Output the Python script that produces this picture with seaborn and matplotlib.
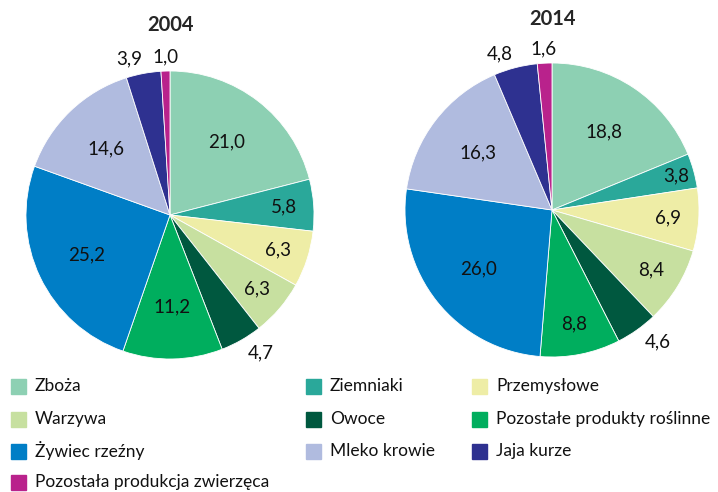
import matplotlib.pyplot as plt
import seaborn as sns
from matplotlib.patches import Rectangle
import numpy as np

#----------------------------------------------------
l_cat=['Zboża', 'Ziemniaki', 'Przemysłowe', 'Warzywa', 'Owoce',
       'Pozostałe produkty roślinne', 'Żywiec rzeźny', 'Mleko krowie',
       'Jaja kurze', 'Pozostała produkcja zwierzęca']
v_2004=[21.0, 5.8, 6.3, 6.3, 4.7, 11.2, 25.2, 14.6, 3.9, 1.0]
v_2014=[18.8, 3.8, 6.9, 8.4, 4.6, 8.8, 26.0, 16.3, 4.8, 1.6]
years=['2004', '2014']
cmap=['#8dd0b3', '#2aa89a', '#eeeda6', '#c7e0a0', '#00583f',
      '#00ae5e', '#007ec6', '#b0bbdf', '#2e3190', '#b9228c']
outside=['Owoce', 'Jaja kurze', 'Pozostała produkcja zwierzęca']

#----------------------------------------------------
sns.set_theme(style='white')
plt.rcParams['font.family']=['Lato', 'DejaVu Sans']
W, H=718, 492
fig=plt.figure(figsize=(W/100, H/100), dpi=100)

def fmt(v):
	return f'{v:.1f}'.replace('.', ',')

def plt_pie(vals, title, cx, cy, r, ty):
	ax=fig.add_axes([(cx-r)/W, (H-cy-r)/H, 2*r/W, 2*r/H])
	wedges, _=ax.pie(vals, colors=cmap, startangle=90, counterclock=False,
		wedgeprops={'edgecolor': 'white', 'linewidth': 0.6})
	ax.set_xlim(-1, 1)
	ax.set_ylim(-1, 1)
	ax.set_aspect('equal')
	ax.axis('off')
	for w, v, name in zip(wedges, vals, l_cat):
		ang=np.deg2rad((w.theta1+w.theta2)/2)
		x, y=np.cos(ang), np.sin(ang)
		if name in outside:
			d=1.1
			dx=np.sign(x)*12/r if abs(x)>0.1 else 0
		else:
			d=0.64 if v>=10 else (0.79 if v>=5 else 0.88)
			dx=0
		ax.text(d*x+dx, d*y, fmt(v), ha='center', va='center',
			fontsize=13.5, color='#111111', clip_on=False)
	fig.text(cx/W, 1-ty/H, title, ha='center', va='center', fontsize=14.5, weight='bold')
	return ax

plt_pie(v_2004, years[0], 170, 215, 144, 25)
plt_pie(v_2014, years[1], 552, 210, 147, 19)

#legend
col_x=[11, 306, 472]
row_y=[386, 419, 451, 482]
for i, (name, c) in enumerate(zip(l_cat, cmap)):
	x=col_x[i%3]
	y=row_y[i//3]
	fig.patches.append(Rectangle((x/W, 1-(y+7.5)/H), 15/W, 15/H, color=c,
		transform=fig.transFigure, figure=fig))
	fig.text((x+24)/W, 1-y/H, name, ha='left', va='center', fontsize=12.5, color='#111111')

plt.savefig('out.png', dpi=100)
plt.close()
